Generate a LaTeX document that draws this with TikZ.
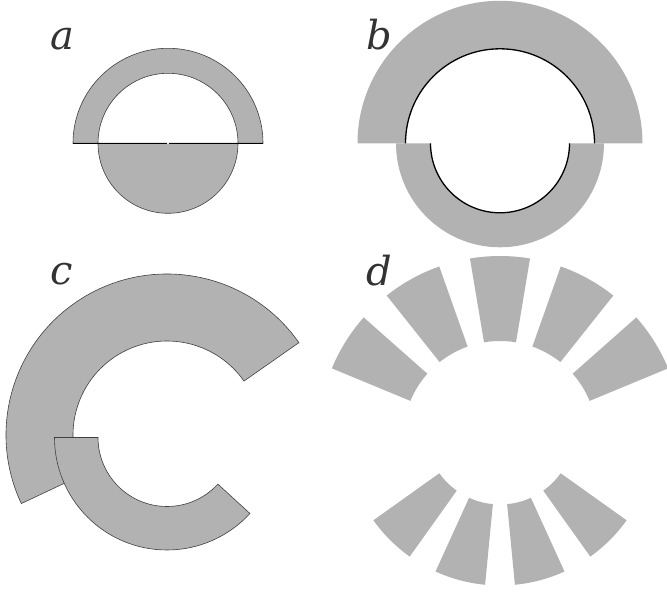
\documentclass[tikz,border=0pt]{standalone}
\usepackage{fontspec}
\setmainfont{DejaVu Serif}
\newcommand{\annsec}[6]{(#1,#2) ++(#5:#4) arc[start angle=#5,end angle=#6,radius=#4] -- ([shift={(#1,#2)}]#6:#3) arc[start angle=#6,end angle=#5,radius=#3] -- cycle}
\begin{document}
\begin{tikzpicture}[x=1pt,y=1pt,
  gfill/.style={fill=black!30},
  thinout/.style={draw=black!75, line width=0.6pt},
  blackarc/.style={draw=black, line width=1.3pt},
  lbl/.style={font=\fontsize{40}{40}\selectfont\itshape, text=black!80, inner sep=0pt, anchor=base west}]
\useasboundingbox (0,0) rectangle (667,592);

% panel a
\coordinate (ac) at (168,448.7);
\path[gfill,thinout] \annsec{168}{448.7}{70}{95}{0}{180};
\path[gfill,thinout] (ac) ++(180:70) arc[start angle=180,end angle=360,radius=70] -- cycle;
\coordinate (al) at (73,448.7);
\coordinate (ar) at (263,448.7);
\draw[line width=1.2pt] (al) -- (ar);
\fill[white] (ac) circle (1.1);

% panel b
\fill[gfill] \annsec{500}{448.7}{94.5}{142.5}{0}{180};
\fill[gfill] \annsec{500}{448.7}{69.5}{104}{180}{360};
\coordinate (bc) at (500,448.7);
\draw[blackarc] (bc) ++(0:94.5) arc[start angle=0,end angle=180,radius=94.5];
\draw[blackarc] (bc) ++(180:69.5) arc[start angle=180,end angle=360,radius=69.5];

% panel c
\path[gfill,thinout] \annsec{167}{157}{94}{161}{35}{205.2};
\path[gfill,thinout] \annsec{167}{154.5}{69}{112.5}{180}{317.5};

% panel d
\foreach \a [evaluate=\a as \s using \a-9.5, evaluate=\a as \e using \a+9.5] in {32,61,90,119,148}
  \fill[gfill] \annsec{500}{154}{97}{182}{\s}{\e};
\foreach \a [evaluate=\a as \s using \a-9.5, evaluate=\a as \e using \a+9.5] in {225,255,285,315}
  \fill[gfill] \annsec{500}{162}{74.5}{155.5}{\s}{\e};

% labels
\node[lbl] (la) at (50,542.3) {a};
\node[lbl] (lb) at (366.5,542.5) {b};
\node[lbl] (lc) at (50,307) {c};
\node[lbl] (ld) at (366.5,306) {d};
\end{tikzpicture}
\end{document}
